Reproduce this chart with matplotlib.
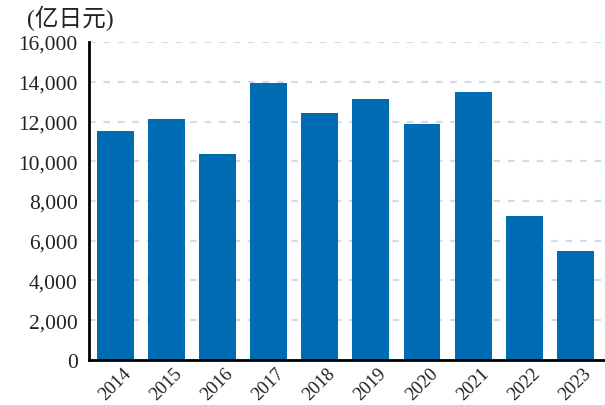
import matplotlib
matplotlib.use('Agg')
import matplotlib.pyplot as plt
from matplotlib.transforms import ScaledTranslation

YEARS = ['2014', '2015', '2016', '2017', '2018', '2019', '2020', '2021', '2022', '2023']
VALUES = [11520, 12130, 10370, 13930, 12430, 13130, 11870, 13480, 7250, 5490]
Y_TICKS = [0, 2000, 4000, 6000, 8000, 10000, 12000, 14000, 16000]
UNIT_LABEL = '(亿日元)'

BAR_COLOR = '#006cb4'
GRID_COLOR = '#d3dbea'
SERIF = ['Liberation Serif', 'Noto Sans CJK SC']

fig = plt.figure(figsize=(6.05, 4.06), dpi=100)
ax = fig.add_axes([0.147, 0.111, 0.853, 0.783])

x = range(len(YEARS))
ax.bar(x, VALUES, width=0.72, color=BAR_COLOR, zorder=3)

ax.set_xlim(-0.515, 9.58)
ax.set_ylim(0, 16000)
ax.set_yticks(Y_TICKS)
ax.set_yticklabels([f'{v:,}' for v in Y_TICKS], family=SERIF, fontsize=15.5, color='#222222')
ax.set_xticks(list(x))
ax.set_xticklabels(YEARS, rotation=45, ha='right', rotation_mode='anchor',
                   family=SERIF, fontsize=13.5, color='#222222')
ax.tick_params(axis='both', length=0)
ax.tick_params(axis='y', pad=8)
ax.tick_params(axis='x', pad=3)
# nudge the rotated year labels a little to the right, as in the source
shift = ScaledTranslation(7 / 100, 0, fig.dpi_scale_trans)
for lab in ax.get_xticklabels():
    lab.set_transform(lab.get_transform() + shift)

ax.yaxis.grid(True, color=GRID_COLOR, linestyle=(0, (3, 3.5)), linewidth=1.6, zorder=0)
ax.set_axisbelow(True)

for side in ['top', 'right']:
    ax.spines[side].set_visible(False)
for side in ['left', 'bottom']:
    ax.spines[side].set_linewidth(2)
    ax.spines[side].set_color('black')
    ax.spines[side].set_zorder(4)

fig.text(0.045, 0.955, UNIT_LABEL, family=SERIF, fontsize=17, color='#222222',
         ha='left', va='center')

fig.savefig('out.png', dpi=100)
